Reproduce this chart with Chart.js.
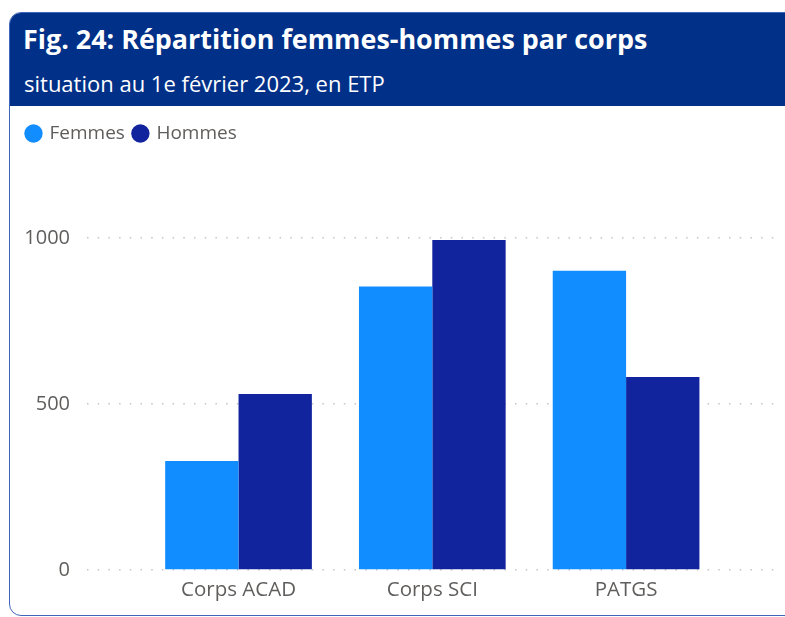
<!DOCTYPE html>
<html>
<head>
<meta charset="utf-8">
<script src="https://cdn.jsdelivr.net/npm/chart.js@4.4.0/dist/chart.umd.min.js"></script>
<style>
html,body{margin:0;padding:0;background:#fff;width:785px;height:617px;overflow:hidden;font-family:"Open Sans",sans-serif;}
#card{position:absolute;left:9px;top:12px;width:800px;height:604px;border:1.5px solid #3f66b8;border-radius:12px;overflow:hidden;box-sizing:border-box;background:#fff;}
#head{position:absolute;left:0;top:0;right:0;height:93px;background:#003087;}
#title{position:absolute;left:13px;top:12.5px;color:#fff;font-weight:700;font-size:26.9px;line-height:1;white-space:nowrap;}
#sub{position:absolute;left:14px;top:59px;color:#fff;font-size:22px;line-height:1;white-space:nowrap;}
#chartbox{position:absolute;left:10px;top:106px;width:775px;height:506px;}
</style>
</head>
<body>
<div id="card">
  <div id="head">
    <div id="title">Fig. 24: Répartition femmes-hommes par corps</div>
    <div id="sub">situation au 1e février 2023, en ETP</div>
  </div>
</div>
<div id="chartbox"><canvas id="c" width="775" height="506"></canvas></div>
<script>
const categories = ['Corps ACAD', 'Corps SCI', 'PATGS'];
const femmes = [328, 854, 901];
const hommes = [530, 994, 581];
const yTicks = [0, 500, 1000];
const seriesNames = ['Femmes', 'Hommes'];
const seriesColors = ['#118DFF', '#12239E'];

const legendHeight = {
  id: 'legendHeight',
  beforeInit(chart) {
    const orig = chart.legend.fit;
    chart.legend.fit = function () {
      orig.call(this);
      this.height = 123;
    };
  }
};

const toPoints = arr => arr.map((v, i) => ({ x: i, y: v }));

new Chart(document.getElementById('c'), {
  type: 'bar',
  data: {
    datasets: [
      { label: seriesNames[0], data: toPoints(femmes), backgroundColor: seriesColors[0], borderWidth: 0 },
      { label: seriesNames[1], data: toPoints(hommes), backgroundColor: seriesColors[1], borderWidth: 0 }
    ]
  },
  options: {
    responsive: false,
    animation: false,
    categoryPercentage: 0.757,
    barPercentage: 1,
    layout: { padding: { top: 9, left: 8, right: 7, bottom: 0 } },
    plugins: {
      legend: {
        position: 'top',
        align: 'start',
        labels: {
          usePointStyle: true,
          pointStyle: 'circle',
          boxWidth: 13,
          boxHeight: 13,
          padding: 9,
          color: '#605E5C',
          font: { family: '"Open Sans", sans-serif', size: 19 }
        }
      },
      tooltip: { enabled: false }
    },
    scales: {
      x: {
        type: 'linear',
        offset: false,
        min: -0.782,
        max: 2.784,
        grid: { display: false, drawTicks: false },
        border: { display: false },
        afterBuildTicks(scale) { scale.ticks = categories.map((_, i) => ({ value: i })); },
        afterFit(scale) { scale.height = 42; },
        ticks: {
          autoSkip: false,
          maxRotation: 0,
          padding: 8,
          color: '#605E5C',
          font: { family: '"Open Sans", sans-serif', size: 20.5 },
          callback: v => categories[v]
        }
      },
      y: {
        min: 0,
        max: 1000,
        afterBuildTicks(scale) { scale.ticks = yTicks.map(v => ({ value: v })); },
        afterFit(scale) { scale.width = 69; },
        grid: { color: '#c4c4c4', lineWidth: 1.5, drawTicks: false },
        border: { display: false, dash: [1.5, 9.2] },
        ticks: {
          padding: 17,
          color: '#605E5C',
          font: { family: '"Open Sans", sans-serif', size: 20 },
          callback: v => String(v)
        }
      }
    }
  },
  plugins: [legendHeight]
});
</script>
</body>
</html>
